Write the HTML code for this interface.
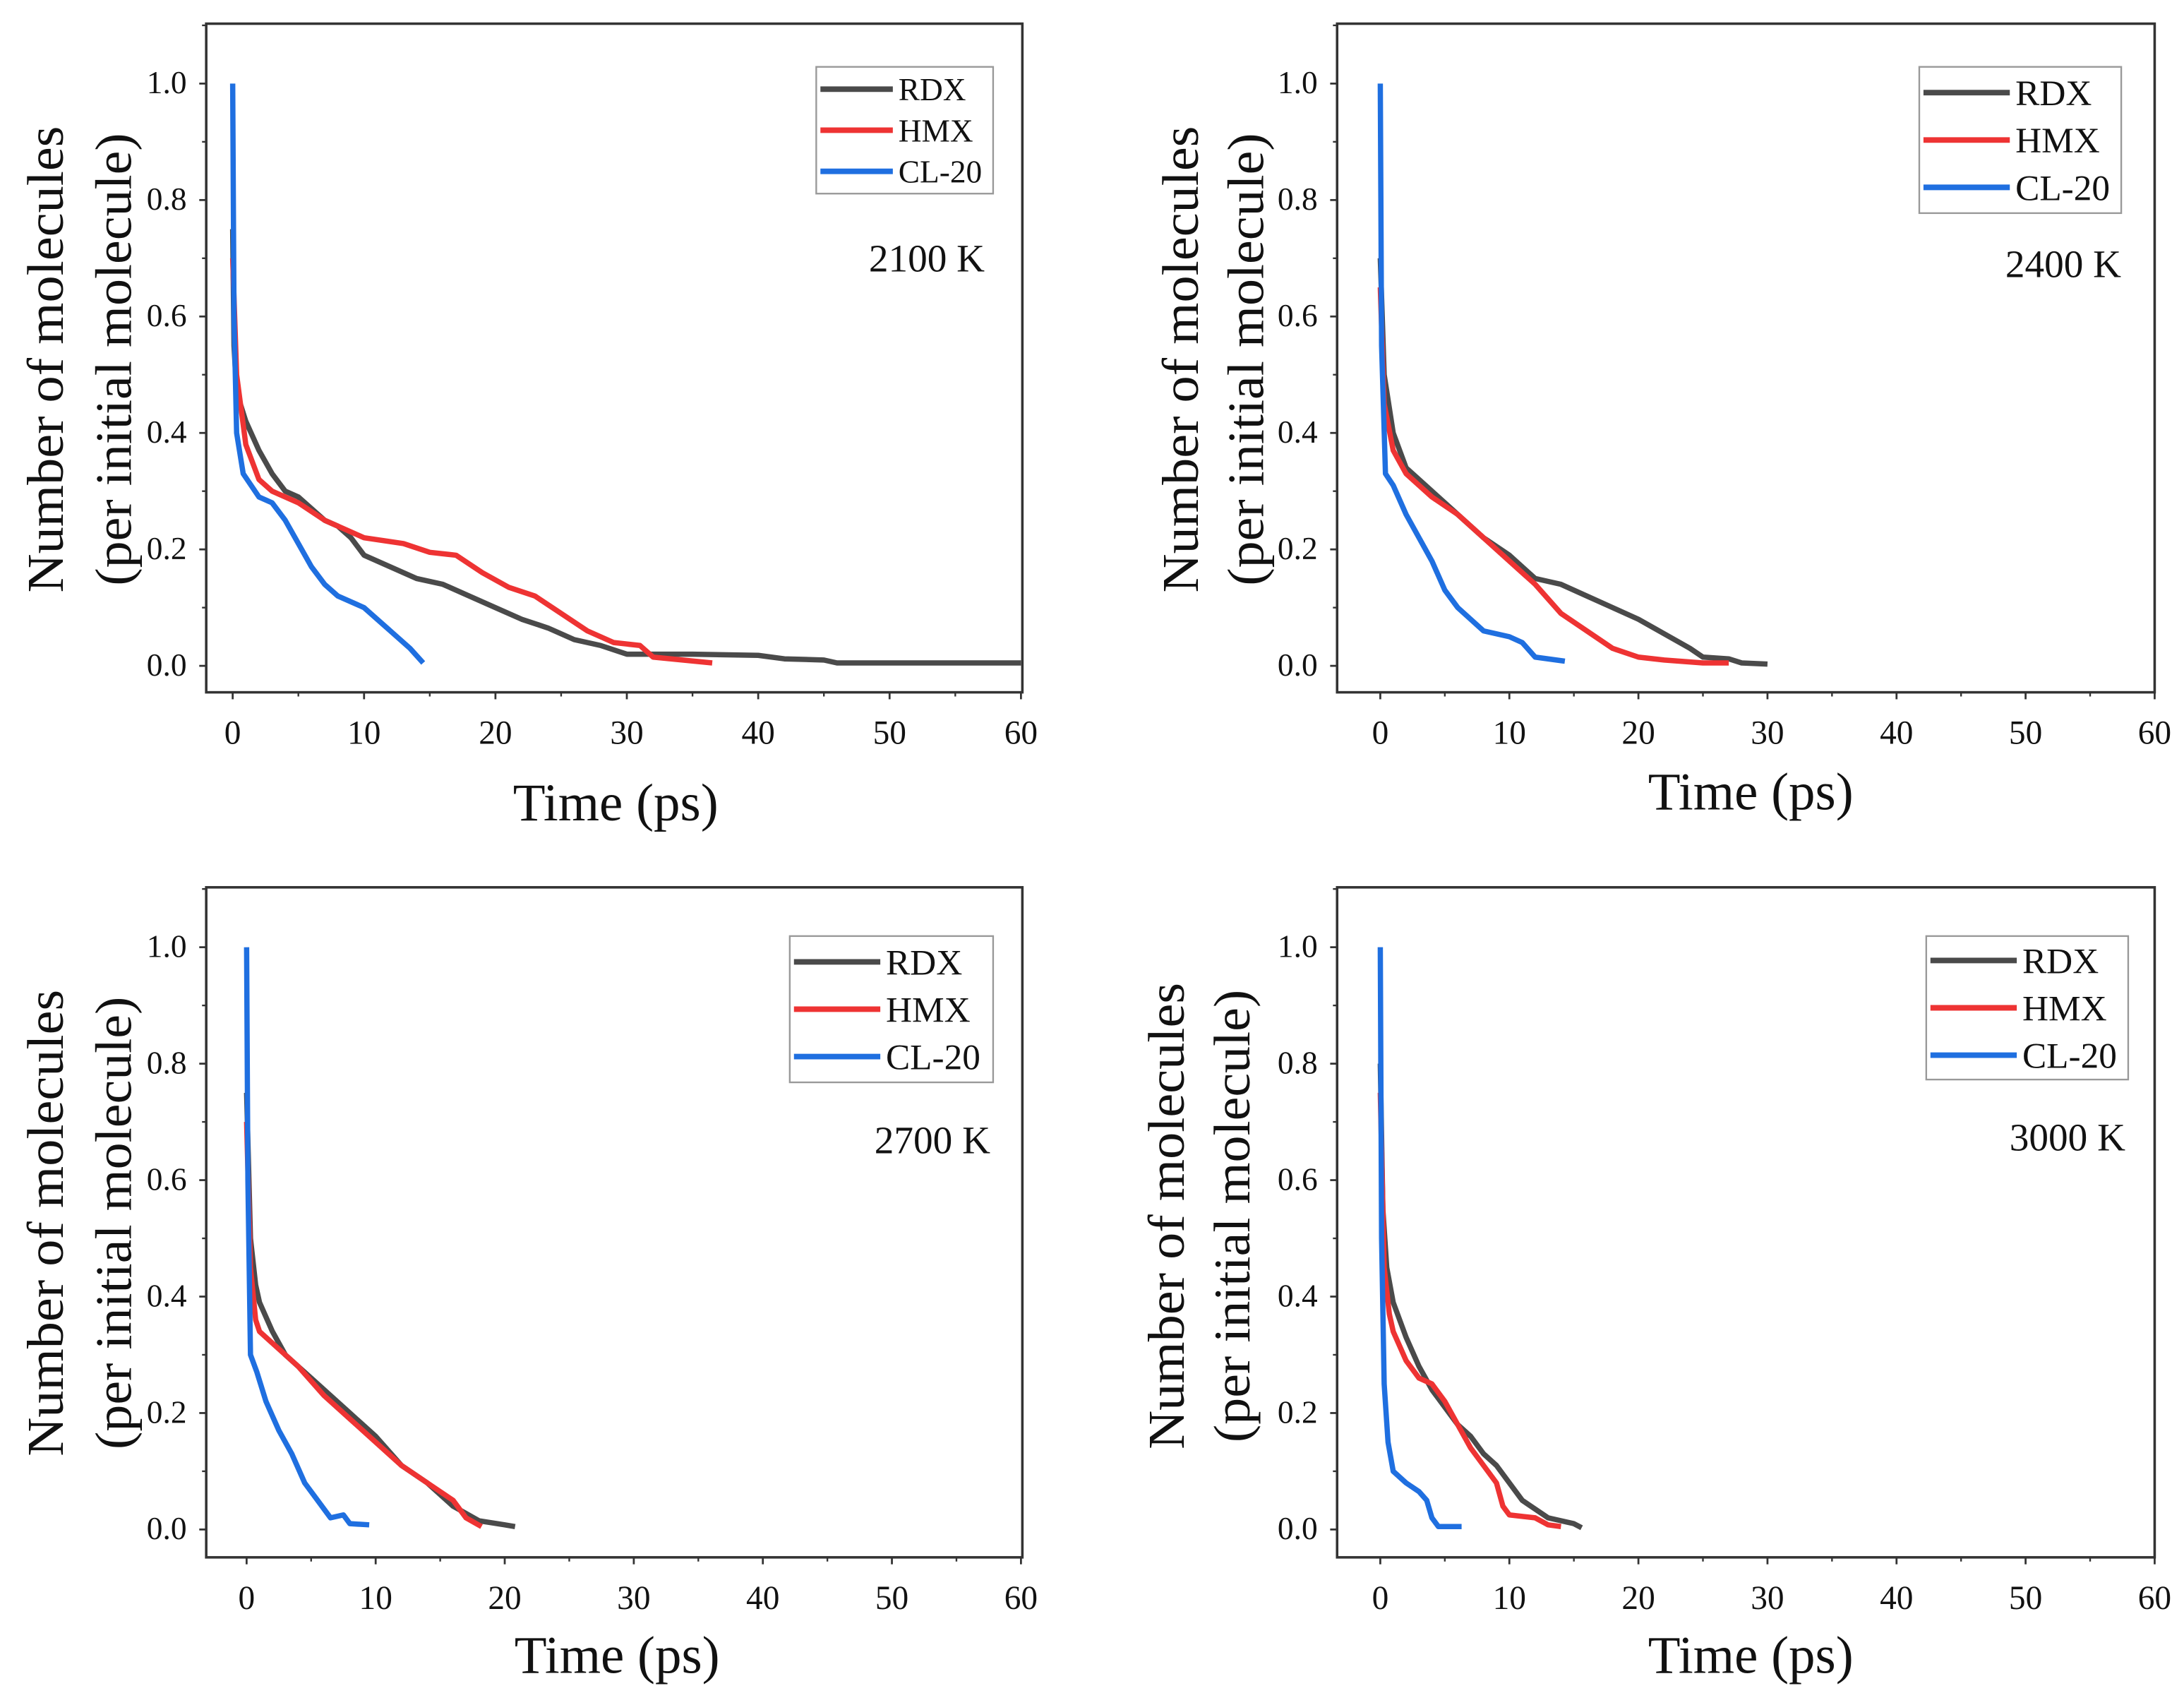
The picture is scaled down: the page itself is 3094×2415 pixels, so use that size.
<!DOCTYPE html>
<html><head><meta charset="utf-8"><style>
html,body{margin:0;padding:0;background:#fff;}
svg{display:block;}
text{font-family:"Liberation Serif",serif;fill:#111;}
</style></head><body>
<svg id="fig" width="3094" height="2415" viewBox="0 0 1568 1224" xmlns="http://www.w3.org/2000/svg"></svg>
<script>
// ---- data (time in ps, fraction of molecules) ----
const seriesNames = ["RDX","HMX","CL-20"];
const panelTemps = ["2100 K","2400 K","2700 K","3000 K"];
const xTicks = [0,10,20,30,40,50,60];
const yTicks = [0.0,0.2,0.4,0.6,0.8,1.0];
const yTickLabels = ["0.0","0.2","0.4","0.6","0.8","1.0"];

const rdx2100 = [[0,0.75],[0.1,0.55],[0.3,0.47],[1,0.42],[2,0.37],[3,0.33],[4,0.3],[5,0.29],[6,0.27],[7,0.25],[8,0.24],[9,0.22],[10,0.19],[12,0.17],[14,0.15],[16,0.14],[18,0.12],[20,0.1],[22,0.08],[24,0.065],[26,0.045],[28,0.035],[30,0.02],[35,0.02],[40,0.018],[42,0.012],[45,0.01],[46,0.005],[60,0.005]];
const hmx2100 = [[0,0.7],[0.3,0.5],[1,0.38],[2,0.32],[3,0.3],[5,0.28],[7,0.25],[9,0.23],[10,0.22],[13,0.21],[15,0.195],[17,0.19],[19,0.16],[21,0.135],[23,0.12],[25,0.09],[27,0.06],[29,0.04],[31,0.035],[32,0.015],[36.5,0.005]];
const cl2100 = [[0,1.0],[0.1,0.6],[0.3,0.4],[0.8,0.33],[2,0.29],[3,0.28],[4,0.25],[5,0.21],[6,0.17],[7,0.14],[8,0.12],[10,0.1],[12,0.06],[13.5,0.03],[14.5,0.005]];

const rdx2400 = [[0,0.7],[0.3,0.5],[1,0.4],[2,0.34],[4,0.3],[6,0.26],[8,0.22],[10,0.19],[12,0.15],[14,0.14],[16,0.12],[18,0.1],[20,0.08],[22,0.055],[24,0.03],[25,0.015],[27,0.012],[28,0.005],[30,0.003]];
const hmx2400 = [[0,0.65],[0.3,0.45],[1,0.37],[2,0.33],[4,0.29],[6,0.26],[8,0.22],[10,0.18],[12,0.14],[14,0.09],[16,0.06],[18,0.03],[20,0.015],[22,0.01],[25,0.005],[27,0.005]];
const cl2400 = [[0,1.0],[0.1,0.55],[0.4,0.33],[1,0.31],[2,0.26],[3,0.22],[4,0.18],[5,0.13],[6,0.1],[7,0.08],[8,0.06],[10,0.05],[11,0.04],[12,0.015],[14.3,0.008]];

const rdx2700 = [[0,0.75],[0.3,0.5],[0.7,0.42],[1,0.39],[2,0.34],[3,0.3],[4,0.28],[5,0.26],[6,0.24],[8,0.2],[10,0.16],[12,0.11],[14,0.08],[16,0.04],[18,0.015],[20,0.008],[20.8,0.005]];
const hmx2700 = [[0,0.7],[0.3,0.45],[0.7,0.36],[1,0.34],[2,0.32],[4,0.28],[6,0.23],[8,0.19],[10,0.15],[12,0.11],[14,0.08],[16,0.05],[17,0.02],[18.2,0.005]];
const cl2700 = [[0,1.0],[0.1,0.6],[0.3,0.3],[0.8,0.27],[1.5,0.22],[2.5,0.17],[3.5,0.13],[4.5,0.08],[5.5,0.05],[6.5,0.02],[7.5,0.025],[8,0.01],[9.5,0.008]];

const rdx3000 = [[0,0.8],[0.2,0.55],[0.5,0.45],[1,0.39],[2,0.33],[3,0.28],[4,0.24],[5,0.21],[6,0.18],[7,0.16],[8,0.13],[9,0.11],[10,0.08],[11,0.05],[12,0.035],[13,0.02],[14,0.015],[15,0.01],[15.6,0.003]];
const hmx3000 = [[0,0.75],[0.3,0.45],[0.7,0.37],[1,0.34],[2,0.29],[3,0.26],[4,0.25],[5,0.22],[6,0.18],[7,0.14],[8,0.11],[9,0.08],[9.5,0.04],[10,0.025],[12,0.02],[13,0.008],[14,0.005]];
const cl3000 = [[0,1.0],[0.1,0.5],[0.3,0.25],[0.6,0.15],[1,0.1],[2,0.08],[3,0.065],[3.6,0.05],[4,0.02],[4.5,0.005],[6.3,0.005]];

const panelData = [[rdx2100,hmx2100,cl2100],[rdx2400,hmx2400,cl2400],[rdx2700,hmx2700,cl2700],[rdx3000,hmx3000,cl3000]];

// ---- layout ----
const colors = ["#4a4a4a","#ee3333","#1f6fe0"];
const panels = [
 {l:148,r:734,t:17,b:497,x0:167,x60:733,y0:478,y1:60,leg:{x:586,y:48,w:127,h:91,dy:29.5,line:52,fs:23},temp:{x:707,y:195},yt:[33,82,258],xl:[442,589]},
 {l:960,r:1547,t:17,b:497,x0:991,x60:1547,y0:478,y1:60,leg:{x:1378,y:48,w:145,h:105,dy:34,line:62,fs:26},temp:{x:1523,y:199},yt:[848,895,258],xl:[1257,581]},
 {l:148,r:734,t:637,b:1118,x0:177,x60:733,y0:1098,y1:680,leg:{x:567,y:672,w:146,h:105,dy:34,line:62,fs:26},temp:{x:711,y:828},yt:[33,82,878],xl:[443,1201]},
 {l:960,r:1547,t:637,b:1118,x0:991,x60:1547,y0:1098,y1:680,leg:{x:1383,y:672,w:145,h:103,dy:34,line:62,fs:26},temp:{x:1526,y:826},yt:[838,885,873],xl:[1257,1201]}
];
const NS="http://www.w3.org/2000/svg";
const svg=document.getElementById('fig');
function mk(tag,attrs,parent,txt){const e=document.createElementNS(NS,tag);for(const k in attrs)e.setAttribute(k,attrs[k]);if(txt!==undefined)e.textContent=txt;(parent||svg).appendChild(e);return e;}

panels.forEach((p,pi)=>{
  const g=mk('g',{});
  
  
  const sx=v=>p.x0+(p.x60-p.x0)*v/60;
  const sy=v=>p.y0-(p.y0-p.y1)*v;
  panelData[pi].forEach((d,si)=>{
    const pts=d.map(q=>sx(q[0]).toFixed(2)+','+sy(q[1]).toFixed(2)).join(' ');
    const pl=mk('polyline',{points:pts,fill:'none',stroke:colors[si],'stroke-width':3.8,'stroke-linejoin':'round'},g);
    
    
  });
  const fr=mk('rect',{x:p.l,y:p.t,width:p.r-p.l,height:p.b-p.t,fill:'none',stroke:'#333','stroke-width':1.8},g);
  
  
  xTicks.forEach(v=>{
    mk('line',{x1:sx(v),x2:sx(v),y1:p.b,y2:p.b+5,stroke:'#333','stroke-width':1.4},g);
    if(v<60) mk('line',{x1:sx(v+5),x2:sx(v+5),y1:p.b,y2:p.b+3,stroke:'#333','stroke-width':1.2},g);
    const t=mk('text',{x:sx(v),y:p.b+37,'text-anchor':'middle','font-size':24},g,String(v));
    
    
  });
  yTicks.forEach((v,i)=>{
    mk('line',{x1:p.l-5,x2:p.l,y1:sy(v),y2:sy(v),stroke:'#333','stroke-width':1.4},g);
    mk('line',{x1:p.l-3,x2:p.l,y1:sy(v+0.1),y2:sy(v+0.1),stroke:'#333','stroke-width':1.2},g);
    const t=mk('text',{x:p.l-14,y:sy(v)+7,'text-anchor':'end','font-size':23},g,yTickLabels[i]);
    
    
  });
  const xt=mk('text',{x:p.xl[0],y:p.xl[1],'text-anchor':'middle','font-size':38},g,'Time (ps)');
  
  
  const y1=mk('text',{x:0,y:0,'text-anchor':'middle','font-size':37,textLength:335,lengthAdjust:'spacingAndGlyphs',transform:`translate(${p.yt[0]+12},${p.yt[2]}) rotate(-90)`},g,'Number of molecules');
  
  
  const y2=mk('text',{x:0,y:0,'text-anchor':'middle','font-size':37,textLength:325,lengthAdjust:'spacingAndGlyphs',transform:`translate(${p.yt[1]+12},${p.yt[2]}) rotate(-90)`},g,'(per initial molecule)');
  
  
  const tp=mk('text',{x:p.temp.x,y:p.temp.y,'text-anchor':'end','font-size':28},g,panelTemps[pi]);
  
  
  const L=p.leg;
  const lg=mk('g',{},g);
  
  
  mk('rect',{x:L.x,y:L.y,width:L.w,height:L.h,fill:'#fff',stroke:'#999','stroke-width':1.2},lg);
  seriesNames.forEach((n,si)=>{
    const cy=L.y+L.h/2+(si-1)*L.dy;
    const e=mk('g',{},lg);
    
    
    mk('line',{x1:L.x+3,x2:L.x+3+L.line,y1:cy,y2:cy,stroke:colors[si],'stroke-width':4},e);
    mk('text',{x:L.x+7+L.line,y:cy+L.fs*0.35,'font-size':L.fs},e,n);
  });
});
</script>
</body></html>
